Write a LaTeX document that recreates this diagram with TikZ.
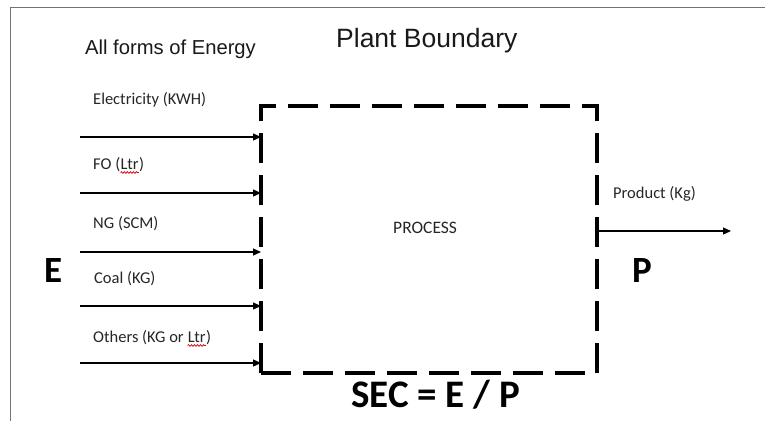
\documentclass[tikz,border=0pt]{standalone}
\usepackage{fontspec}
\setmainfont{Carlito}
\newfontfamily\arialf{Liberation Sans}
\usetikzlibrary{arrows.meta,decorations.pathmorphing}
\begin{document}
\begin{tikzpicture}[x=1pt,y=-1pt,
  framel/.style={draw=black!55, line width=1.5pt},
  boundary/.style={draw=black, line width=3.6pt, dash pattern=on 30pt off 12pt},
  flow/.style={draw=black, line width=1.2pt, -{Triangle[length=8pt,width=7pt]}},
  lbl/.style={font=\fontsize{16.5}{18}\selectfont, text=black!85, inner sep=0pt, anchor=base west},
  title/.style={font=\arialf\fontsize{20.2}{24}\selectfont, text=black!90, inner sep=0pt, anchor=base west},
  big/.style={font=\bfseries\fontsize{37}{40}\selectfont, inner sep=0pt, anchor=base west},
  squig/.style={draw=red!85!black, line width=0.7pt, decorate, decoration={snake, amplitude=0.9pt, segment length=3pt}}
]
\useasboundingbox (0,0) rectangle (765,421);
% outer frame
\coordinate (ftl) at (10.5,7.5);
\coordinate (ftr) at (765,7.5);
\coordinate (fbl) at (10.5,421);
\draw[framel] (ftr) -- (ftl) -- (fbl);

% plant boundary
\coordinate (btl) at (261,106);
\coordinate (btr) at (597,106);
\coordinate (bbr) at (597,373);
\coordinate (bbl) at (261,373);
\draw[boundary] (bbl) -- (btl) -- (btr) -- (bbr) -- (bbl);

% titles
\node[title] (allforms) at (85,54) {All forms of Energy};
\node[title, font=\arialf\fontsize{26.5}{30}\selectfont] (plant) at (336,47) {Plant Boundary};

% inputs
\foreach \y/\n in {137/a,193/b,252/c,306/d,363/e}{
  \coordinate (s\n) at (80,\y);
  \coordinate (t\n) at (261,\y);
  \draw[flow] (s\n) -- (t\n);
}
\node[lbl] (elec) at (93,104) {Electricity (KWH)};
\node[lbl] (fo1) at (93,169) {FO (};
\node[lbl] (fo2) at (fo1.base east) {Ltr};
\node[lbl] (fo3) at (fo2.base east) {)};
\node[lbl] (ng) at (93,228) {NG (SCM)};
\node[lbl] (coal) at (94,283) {Coal (KG)};
\node[lbl] (oth1) at (93,342) {Others (KG or};
\node[lbl] (oth2) at ([xshift=3.7pt]oth1.base east) {Ltr};
\node[lbl] (oth3) at (oth2.base east) {)};
\draw[squig] ([yshift=-3.5pt]fo2.base west) -- ([yshift=-3.5pt]fo2.base east);
\draw[squig] ([yshift=-3.5pt]oth2.base west) -- ([yshift=-3.5pt]oth2.base east);

\node[big] (E) at (44,282) {E};

% process
\node[lbl, font=\fontsize{17.5}{20}\selectfont] (proc) at (393,233) {PROCESS};

% output
\coordinate (po) at (597,231);
\coordinate (pe) at (731,231);
\draw[flow] (po) -- (pe);
\node[lbl] (prod) at (613,198) {Product (Kg)};
\node[big] (P) at (632,282) {P};

% formula
\node[big, font=\bfseries\fontsize{39}{42}\selectfont] (sec) at (351,407) {SEC = E / P};
\end{tikzpicture}
\end{document}
